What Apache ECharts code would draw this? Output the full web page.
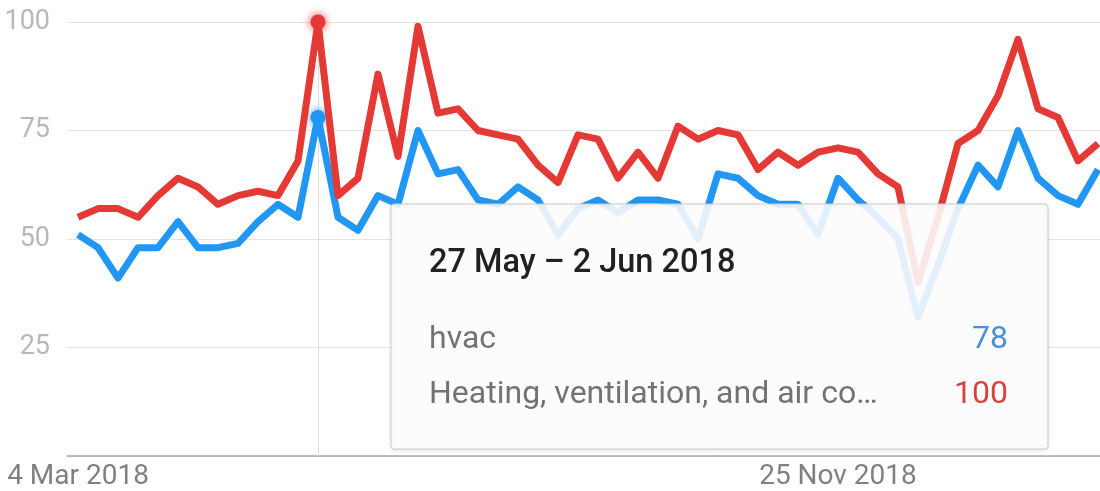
<!DOCTYPE html>
<html>
<head>
<meta charset="utf-8">
<script src="https://cdn.jsdelivr.net/npm/echarts@6/dist/echarts.min.js"></script>
<style>
html,body{margin:0;padding:0;background:#fff;}
#chart{width:1100px;height:491px;}
</style>
</head>
<body>
<div id="chart"></div>
<script>
// ---- data ----
const seriesNames = ['hvac', 'Heating, ventilation, and air conditioning'];
const hvac = [51,48,41,48,48,54,48,48,49,54,58,55,78,55,52,60,58,75,65,66,59,58,62,59,51,57,59,56,59,59,58,50,65,64,60,58,58,51,64,59,55,50,32,44,57,67,62,75,64,60,58,66];
const heating = [55,57,57,55,60,64,62,58,60,61,60,68,100,60,64,88,69,99,79,80,75,74,73,67,63,74,73,64,70,64,76,73,75,74,66,70,67,70,71,70,65,62,40,55,72,75,83,96,80,78,68,72];
const xTickIndex = [0, 38];
const xTickLabels = ['4 Mar 2018', '25 Nov 2018'];
const yTicks = [25, 50, 75, 100];
const hoverIndex = 12;
const hoverLabel = '27 May – 2 Jun 2018';
const colors = ['#2196f3', '#e53935'];
const valueColors = ['#4a8fd8', '#d8443c'];

function pairs(arr, color) {
  return arr.map((v, i) => i === hoverIndex
    ? { value: [i, v], symbol: 'circle', symbolSize: 15,
        itemStyle: { color: color, shadowBlur: 8, shadowColor: color } }
    : { value: [i, v], symbol: 'none' });
}

const chart = echarts.init(document.getElementById('chart'), null, { renderer: 'canvas' });
const truncated = seriesNames[1].slice(0, 32) + '…';
const font = 'Roboto, "Noto Sans", sans-serif';

chart.setOption({
  animation: false,
  grid: { left: 67, right: 0, top: 22, bottom: 35, containLabel: false },
  xAxis: {
    type: 'value',
    min: -0.55,
    max: 51.1,
    splitLine: { show: false },
    axisTick: { show: false },
    axisLine: { show: true, lineStyle: { color: '#a8a8a8', width: 1.5 } },
    axisLabel: {
      customValues: xTickIndex,
      formatter: v => xTickLabels[xTickIndex.indexOf(Math.round(v))] || '',
      color: '#808080',
      fontSize: 28,
      fontFamily: font,
      margin: 7
    }
  },
  yAxis: {
    type: 'value',
    min: 0,
    max: 100,
    interval: 25,
    axisLine: { show: false },
    axisTick: { show: false },
    splitLine: { lineStyle: { color: '#e2e2e2', width: 1 } },
    axisLabel: {
      formatter: v => yTicks.indexOf(v) >= 0 ? String(v) : '',
      color: '#b8b8b8',
      fontSize: 27,
      fontFamily: font,
      margin: 17
    }
  },
  series: [
    {
      name: seriesNames[0],
      type: 'line',
      data: pairs(hvac, colors[0]),
      showSymbol: true,
      lineStyle: { color: colors[0], width: 7, join: 'round' },
      itemStyle: { color: colors[0] },
      z: 3,
      markLine: {
        silent: true,
        symbol: ['none', 'none'],
        label: { show: false },
        lineStyle: { color: '#dcdcdc', width: 1, type: 'solid' },
        data: [{ xAxis: hoverIndex }],
        z: 1
      }
    },
    {
      name: seriesNames[1],
      type: 'line',
      data: pairs(heating, colors[1]),
      showSymbol: true,
      lineStyle: { color: colors[1], width: 7, join: 'round' },
      itemStyle: { color: colors[1] },
      z: 4
    }
  ],
  graphic: [
    {
      type: 'rect', z: 100,
      shape: { x: 391, y: 204, width: 657, height: 245, r: 3 },
      style: { fill: 'rgba(255,255,255,0.88)', stroke: '#cccccc', lineWidth: 1,
               shadowBlur: 4, shadowColor: 'rgba(0,0,0,0.12)', shadowOffsetY: 1 }
    },
    {
      type: 'text', z: 101, x: 429, y: 264,
      style: { text: hoverLabel, font: '500 32.5px ' + font, fill: '#212121',
               textAlign: 'left', textVerticalAlign: 'middle' }
    },
    {
      type: 'text', z: 101, x: 429, y: 340,
      style: { text: seriesNames[0], font: '32px ' + font, fill: '#737373',
               textAlign: 'left', textVerticalAlign: 'middle' }
    },
    {
      type: 'text', z: 101, x: 1008, y: 340,
      style: { text: String(hvac[hoverIndex]), font: '32px ' + font, fill: valueColors[0],
               textAlign: 'right', textVerticalAlign: 'middle' }
    },
    {
      type: 'text', z: 101, x: 429, y: 395,
      style: { text: truncated, font: '32px ' + font, fill: '#737373',
               textAlign: 'left', textVerticalAlign: 'middle' }
    },
    {
      type: 'text', z: 101, x: 1008, y: 395,
      style: { text: String(heating[hoverIndex]), font: '32px ' + font, fill: valueColors[1],
               textAlign: 'right', textVerticalAlign: 'middle' }
    }
  ]
});
</script>
</body>
</html>
